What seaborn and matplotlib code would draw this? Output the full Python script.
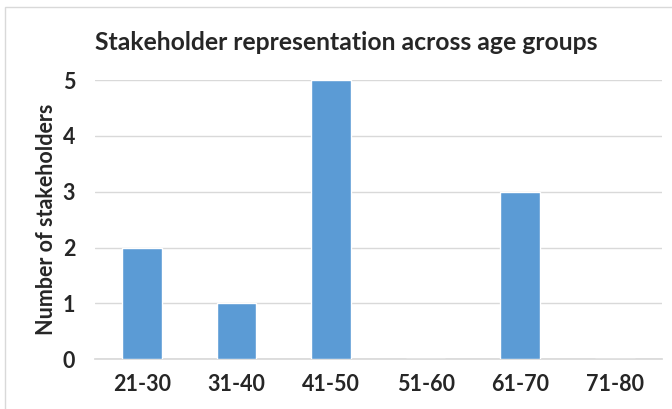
import matplotlib
matplotlib.use("Agg")
import matplotlib.pyplot as plt
import seaborn as sns
import pandas as pd

# age groups and counts
age_groups = ["21-30", "31-40", "41-50", "51-60", "61-70", "71-80"]
stakeholders = [2, 1, 5, 0, 3, 0]

df = pd.DataFrame({"age": age_groups, "count": stakeholders})

sns.set_theme(style="white")
plt.rcParams["font.family"] = ["Lato", "DejaVu Sans"]

fig = plt.figure(figsize=(6.72, 4.09), dpi=100)
ax = fig.add_axes([0.141, 0.122, 0.844, 0.682])

sns.barplot(data=df, x="age", y="count", color="#5B9BD5", width=0.42,
            saturation=1, ax=ax, zorder=3)

ax.set_ylim(0, 5)
ax.set_yticks(range(0, 6))
ax.yaxis.grid(True, color="#D9D9D9", linewidth=1, zorder=0)
for s in ["top", "right", "left"]:
    ax.spines[s].set_visible(False)
ax.spines["bottom"].set_color("#D9D9D9")
ax.tick_params(axis="both", length=0, labelsize=15.5, pad=11)
ax.tick_params(axis="y", pad=14)
for lab in ax.get_xticklabels() + ax.get_yticklabels():
    lab.set_fontweight("bold")

ax.set_xlabel("")
ax.set_ylabel("Number of stakeholders", fontsize=15.5, fontweight="bold", labelpad=4)
fig.text(0.141, 0.895, "Stakeholder representation across age groups",
         fontsize=17.8, fontweight="bold", va="center", ha="left")

# light chart border like the spreadsheet frame
fig.add_artist(plt.Rectangle((0.007, -0.05), 1.2, 1.033, transform=fig.transFigure,
                             fill=False, edgecolor="#D9D9D9", linewidth=1))

fig.savefig("out.png", dpi=100)
